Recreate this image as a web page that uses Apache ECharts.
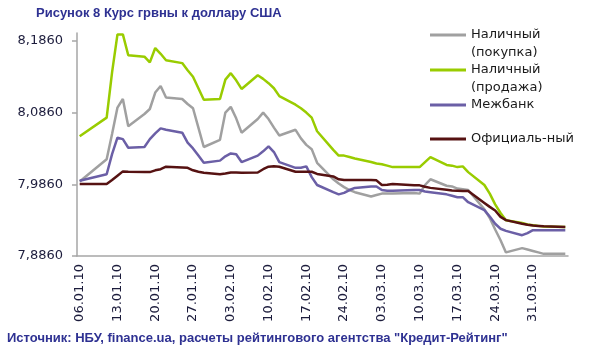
<!DOCTYPE html>
<html>
<head>
<meta charset="utf-8">
<script src="https://cdn.jsdelivr.net/npm/echarts@6/dist/echarts.min.js"></script>
<style>
  html, body { margin: 0; padding: 0; background: #fff; }
  #chart { width: 590px; height: 354px; }
</style>
</head>
<body>
<div id="chart"></div>
<script>
// торговые дни (dd.mm.yy)
var tradeDates = [
  '06.01.10',
  '11.01.10', '12.01.10', '13.01.10', '14.01.10', '15.01.10',
  '18.01.10', '19.01.10', '20.01.10', '21.01.10', '22.01.10',
  '25.01.10', '26.01.10', '27.01.10', '28.01.10', '29.01.10',
  '01.02.10', '02.02.10', '03.02.10', '04.02.10', '05.02.10',
  '08.02.10', '09.02.10', '10.02.10', '11.02.10', '12.02.10',
  '15.02.10', '16.02.10', '17.02.10', '18.02.10', '19.02.10',
  '22.02.10', '23.02.10', '24.02.10', '25.02.10', '26.02.10',
  '01.03.10', '02.03.10', '03.03.10', '04.03.10', '05.03.10',
  '09.03.10', '10.03.10', '11.03.10', '12.03.10',
  '15.03.10', '16.03.10', '17.03.10', '18.03.10', '19.03.10',
  '22.03.10', '23.03.10', '24.03.10', '25.03.10', '26.03.10',
  '29.03.10', '30.03.10', '31.03.10', '01.04.10', '02.04.10',
  '06.04.10'
];

var cashBuy = [
  7.990,
  8.021, 8.056, 8.093, 8.105, 8.067,
  8.084, 8.091, 8.114, 8.123, 8.107,
  8.105, 8.098, 8.092, 8.065, 8.038,
  8.048, 8.086, 8.094, 8.078, 8.058,
  8.077, 8.086, 8.077, 8.065, 8.054,
  8.062, 8.050, 8.041, 8.035, 8.016,
  7.993, 7.987, 7.982, 7.978, 7.975,
  7.969, 7.971, 7.973, 7.973, 7.973,
  7.974, 7.973, 7.985, 7.993,
  7.984, 7.983, 7.980, 7.979, 7.978,
  7.951, 7.939, 7.923, 7.908, 7.891,
  7.897, 7.895, 7.893, 7.891, 7.889,
  7.889
];

var cashSell = [
  8.053,
  8.079, 8.142, 8.195, 8.195, 8.166,
  8.164, 8.156, 8.176, 8.168, 8.159,
  8.155, 8.145, 8.136, 8.120, 8.104,
  8.105, 8.132, 8.141, 8.131, 8.119,
  8.138, 8.133, 8.127, 8.120, 8.109,
  8.097, 8.092, 8.086, 8.079, 8.060,
  8.034, 8.026, 8.026, 8.024, 8.022,
  8.017, 8.015, 8.014, 8.012, 8.010,
  8.010, 8.010, 8.017, 8.024,
  8.013, 8.012, 8.010, 8.011, 8.003,
  7.985, 7.973, 7.958, 7.946, 7.936,
  7.932, 7.930, 7.929, 7.928, 7.927,
  7.9265
];

var interbank = [
  7.991,
  8.000, 8.028, 8.051, 8.049, 8.037,
  8.038, 8.049, 8.057, 8.064, 8.062,
  8.058, 8.044, 8.036, 8.026, 8.016,
  8.019, 8.025, 8.029, 8.028, 8.017,
  8.026, 8.032, 8.039, 8.031, 8.017,
  8.009, 8.009, 8.011, 7.996, 7.985,
  7.975, 7.972, 7.974, 7.978, 7.981,
  7.983, 7.983, 7.978, 7.977, 7.977,
  7.978, 7.978, 7.976, 7.975,
  7.972, 7.970, 7.968, 7.968, 7.961,
  7.950, 7.941, 7.931, 7.924, 7.921,
  7.915, 7.918, 7.922, 7.922, 7.922,
  7.922
];

var official = [
  7.9865,
  7.9865, 7.992, 7.998, 8.004, 8.0035,
  8.003, 8.003, 8.0055, 8.007, 8.0105,
  8.0095, 8.009, 8.0055, 8.0035, 8.002,
  8.000, 8.001, 8.0025, 8.0025, 8.002,
  8.0025, 8.007, 8.0105, 8.011, 8.0105,
  8.0035, 8.0035, 8.0035, 8.0035, 8.0005,
  7.997, 7.993, 7.992, 7.992, 7.992,
  7.992, 7.9915, 7.985, 7.9855, 7.9865,
  7.9845, 7.9845, 7.9825, 7.981,
  7.9785, 7.9775, 7.977, 7.9765, 7.9765,
  7.960, 7.9545, 7.9495, 7.9405, 7.936,
  7.931, 7.9295, 7.9285, 7.928, 7.9275,
  7.9265
];

var yTicks = [7.886, 7.986, 8.086, 8.186];

var seriesNames = ['Наличный (покупка)', 'Наличный (продажа)', 'Межбанк', 'Официаль-ный'];
var seriesColors = ['#a0a0a0', '#99cc00', '#6b5fa6', '#561212'];

// календарная ось: все дни с 06.01.10 по 06.04.10
function pad(n) { return n < 10 ? '0' + n : '' + n; }
var days = [];
for (var k = 0; k < 91; k++) {
  var d = new Date(Date.UTC(2010, 0, 6 + k));
  days.push(pad(d.getUTCDate()) + '.' + pad(d.getUTCMonth() + 1) + '.' + String(d.getUTCFullYear()).slice(2));
}

function onDays(values) {
  return days.map(function (day) {
    var j = tradeDates.indexOf(day);
    return j >= 0 ? values[j] : null;
  });
}

var allValues = [cashBuy, cashSell, interbank, official];

// по легенде на каждую серию, чтобы значок стоял у первой строки
var legendTops = [8, 43, 96, 130];
var legends = seriesNames.map(function (name, i) {
  return {
    left: 430,
    top: legendTops[i],
    padding: 0,
    orient: 'vertical',
    icon: 'rect',
    itemWidth: 36,
    itemHeight: 3,
    data: [name],
    formatter: function (n) {
      var sp = n.indexOf(' ');
      return sp > 0 ? ' \n' + n.slice(0, sp) + '\n' + n.slice(sp + 1) : n;
    },
    textStyle: {
      fontFamily: 'DejaVu Sans',
      fontSize: 13,
      lineHeight: 18,
      color: '#1a1a1a'
    }
  };
});

var chart = echarts.init(document.getElementById('chart'));
chart.setOption({
  animation: false,
  title: [{
    text: 'Рисунок 8 Курс грвны к доллару США',
    left: 36,
    top: 7,
    padding: 0,
    textStyle: { fontFamily: 'Liberation Sans', fontSize: 13, fontWeight: 'bold', color: '#2e3192' }
  }, {
    text: 'Источник: НБУ, finance.ua, расчеты рейтингового агентства "Кредит-Рейтинг"',
    left: 7,
    top: 332,
    padding: 0,
    textStyle: { fontFamily: 'Liberation Sans', fontSize: 13, fontWeight: 'bold', color: '#2e3192' }
  }],
  legend: legends,
  grid: { left: 77, right: 22, top: 33, bottom: 98 },
  xAxis: {
    type: 'category',
    data: days,
    boundaryGap: true,
    axisLine: { lineStyle: { color: '#a6a6a6', width: 1.5 } },
    axisTick: { interval: 6, length: 4, lineStyle: { color: '#a6a6a6', width: 1.5 } },
    axisLabel: {
      interval: 6,
      rotate: 90,
      margin: 8,
      fontFamily: 'DejaVu Sans',
      fontSize: 13,
      color: '#1c1c3c'
    },
    splitLine: { show: false }
  },
  yAxis: {
    type: 'value',
    min: 7.886,
    max: 8.197,
    axisLine: { show: true, lineStyle: { color: '#a6a6a6', width: 1.5 } },
    axisTick: { show: true, length: 5, customValues: yTicks, lineStyle: { color: '#a6a6a6', width: 1.5 } },
    axisLabel: {
      customValues: yTicks,
      margin: 14,
      fontFamily: 'DejaVu Sans',
      fontSize: 13,
      color: '#1c1c3c',
      formatter: function (v) { return v.toFixed(4).replace('.', ','); }
    },
    splitLine: { show: false }
  },
  series: seriesNames.map(function (name, i) {
    return {
      name: name,
      type: 'line',
      data: onDays(allValues[i]),
      connectNulls: true,
      showSymbol: false,
      symbol: 'none',
      color: seriesColors[i],
      lineStyle: { width: 2.5, color: seriesColors[i] }
    };
  })
});
</script>
</body>
</html>
